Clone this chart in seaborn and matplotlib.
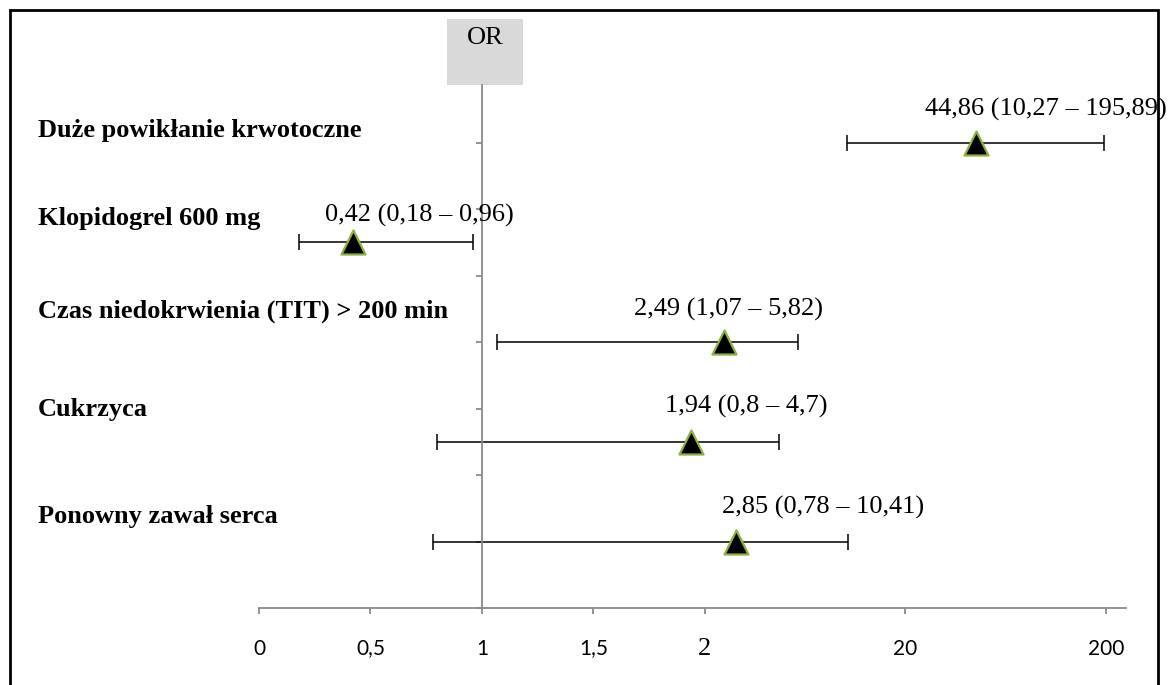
import numpy as np
import pandas as pd
import matplotlib
matplotlib.use("Agg")
import matplotlib.pyplot as plt
from matplotlib.patches import Rectangle
from matplotlib.transforms import blended_transform_factory
import seaborn as sns

# --- data -------------------------------------------------------------
factors = [
    "Duże powikłanie krwotoczne",
    "Klopidogrel 600 mg",
    "Czas niedokrwienia (TIT) > 200 min",
    "Cukrzyca",
    "Ponowny zawał serca",
]
odds_ratio = [44.86, 0.42, 2.49, 1.94, 2.85]
ci_lower = [10.27, 0.18, 1.07, 0.8, 0.78]
ci_upper = [195.89, 0.96, 5.82, 4.7, 10.41]

tick_values = [0, 0.5, 1, 1.5, 2, 20, 200]
tick_labels = ["0", "0,5", "1", "1,5", "2", "20", "200"]

# --- layout -----------------------------------------------------------
row_y = [7, 5.5, 4, 2.5, 1]
name_lift_px = [6, 17, 24, 26, 18]            # baseline of factor names above each row
value_shift_px = [(70, 27), (67, 21), (5, 26), (55, 29), (87, 28)]

W, H, DPI = 1174, 685, 100
SERIF = "Liberation Serif"
SANS = "Lato"
AXIS_GREY = "#8a8a8a"
EDGE_GREEN = "#8fb23f"


def fmt(v):
    return f"{v:g}".replace(".", ",")


df = pd.DataFrame({
    "factor": factors,
    "or": odds_ratio,
    "lo": ci_lower,
    "hi": ci_upper,
    "y": row_y,
})

# Linear scale up to 2, logarithmic above it
K = 0.9


def forward(x):
    x = np.asarray(x, dtype=float)
    return np.where(x <= 2, x, 2 + K * np.log10(np.maximum(x, 2) / 2))


def inverse(u):
    u = np.asarray(u, dtype=float)
    return np.where(u <= 2, u, 2 * 10 ** ((np.maximum(u, 2) - 2) / K))


sns.set_style("white")
plt.rcParams["font.family"] = [SANS, "DejaVu Sans"]
plt.rcParams["text.color"] = "black"
plt.rcParams["xtick.color"] = "black"
plt.rcParams["ytick.color"] = "black"

fig = plt.figure(figsize=(W / DPI, H / DPI), dpi=DPI)
ax = fig.add_axes([259 / W, 1 - 608 / H, (1126 - 259) / W, (608 - 85) / H])
ax.set_xscale("function", functions=(forward, inverse))
ax.set_xlim(0, float(inverse(3.89)))
ax.set_ylim(0, (608 - 85) / 66.5)

# confidence intervals
ax.errorbar(df["or"], df["y"],
            xerr=[df["or"] - df["lo"], df["hi"] - df["or"]],
            fmt="none", ecolor="black", elinewidth=1.1,
            capsize=6, capthick=1.1, zorder=2)

# point estimates
sns.scatterplot(data=df, x="or", y="y", ax=ax, marker="^", s=300,
                color="black", edgecolor=EDGE_GREEN, linewidth=1.6,
                zorder=3, legend=False)

# axes styling
for side in ("top", "right"):
    ax.spines[side].set_visible(False)
ax.spines["left"].set_position(("data", 1))
for side in ("left", "bottom"):
    ax.spines[side].set_color(AXIS_GREY)
    ax.spines[side].set_linewidth(1.3)

ax.set_xticks(tick_values)
ax.set_xticklabels(tick_labels)
ax.set_yticks(np.arange(0, 8))
ax.set_yticklabels([])
ax.tick_params(axis="both", direction="out", length=4.5, width=1.3,
               color=AXIS_GREY)
ax.tick_params(axis="x", bottom=True, pad=29, labelsize=15,
               labelcolor="black")
ax.tick_params(axis="y", left=True)
for lbl in ax.get_xticklabels():
    lbl.set_verticalalignment("baseline")
    if lbl.get_text() == "2":
        lbl.set_fontfamily(SERIF)
        lbl.set_fontsize(19)
ax.set_xlabel("")
ax.set_ylabel("")
ax.patch.set_alpha(0)

# factor names on the left
name_tr = blended_transform_factory(fig.transFigure, ax.transData)
for name, y, lift in zip(factors, row_y, name_lift_px):
    ax.annotate(name, xy=(38 / W, y), xycoords=name_tr,
                xytext=(0, lift * 72 / DPI), textcoords="offset points",
                ha="left", va="baseline", fontfamily=SERIF, color="black",
                fontweight="bold", fontsize=19, annotation_clip=False)

# OR with confidence interval above each marker
for o, lo, hi, y, (dx, dy) in zip(odds_ratio, ci_lower, ci_upper, row_y,
                                   value_shift_px):
    ax.annotate(f"{fmt(o)} ({fmt(lo)} – {fmt(hi)})", xy=(o, y),
                xytext=(dx * 72 / DPI, dy * 72 / DPI),
                textcoords="offset points", ha="center", va="baseline",
                fontfamily=SERIF, fontsize=19, color="black",
                annotation_clip=False)

# "OR" header box
fig.add_artist(Rectangle((447 / W, 1 - 85 / H), 76 / W, 66 / H,
                         transform=fig.transFigure, facecolor="#d9d9d9",
                         edgecolor="none", zorder=0))
fig.text(485 / W, 1 - 38 / H, "OR", ha="center", va="center",
         fontfamily=SERIF, fontsize=19, color="black")

# outer frame
fig.add_artist(Rectangle((10 / W, -0.02), (1158 - 10) / W, 1 - 10 / H + 0.02,
                         transform=fig.transFigure, fill=False,
                         edgecolor="black", linewidth=2, zorder=5))

fig.savefig("out.png", dpi=DPI)
